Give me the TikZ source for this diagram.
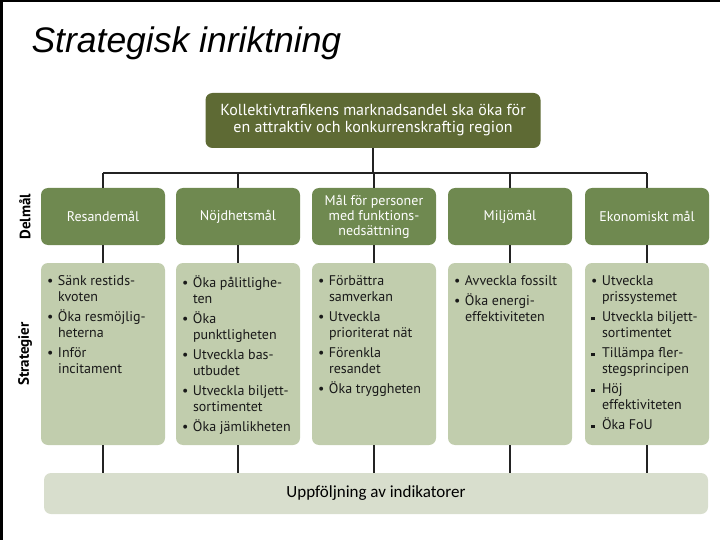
\documentclass[tikz,border=0pt]{standalone}
\usepackage{fontspec}
\setmainfont{PT Sans}
\newfontfamily\titlefont{Liberation Sans}
\newfontfamily\barfont{Carlito}
\definecolor{topgreen}{RGB}{94,106,52}
\definecolor{goalgreen}{RGB}{111,137,80}
\definecolor{stratgreen}{RGB}{193,205,173}
\definecolor{followgrey}{RGB}{216,222,205}
\definecolor{linkgrey}{RGB}{35,35,35}
\tikzset{
  goalbox/.style={fill=goalgreen, rounded corners=7pt, minimum width=124pt, minimum height=57pt,
    text=white, align=center, font=\fontsize{14}{15}\selectfont},
  stratbox/.style={fill=stratgreen, rounded corners=7pt, minimum width=124pt, minimum height=182pt},
  strattext/.style={anchor=north west, align=left, inner sep=0pt, xshift=6pt, yshift=-13pt,
    font=\fontsize{14}{16}\selectfont, text=black!90},
  sidelabel/.style={rotate=90, font=\bfseries\fontsize{15}{17}\selectfont},
  link/.style={draw=linkgrey, line width=1.3pt}
}
\newcommand{\itm}{\makebox[11pt][l]{\textbullet}}
\newcommand{\sqi}{\makebox[11pt][l]{\rule[1.5pt]{3.5pt}{3.5pt}}}
\newcommand{\cnt}{\hspace*{11pt}}
\begin{document}
\begin{tikzpicture}[x=1pt, y=-1pt]
  \useasboundingbox (0,0) rectangle (720,540);
  % frame
  \draw[line width=3pt] (1.5,540) -- (1.5,1) -- (720,1);
  \node[anchor=base west, font=\titlefont\itshape\fontsize{35.5}{38}\selectfont] (title) at (28,53) {Strategisk inriktning};

  % top goal
  \node[fill=topgreen, rounded corners=7pt, minimum width=335pt, minimum height=55pt,
    text=white, align=center, font=\fontsize{16}{17}\selectfont] (vision) at (373,120.5)
    {Kollektivtrafikens marknadsandel ska öka för\\en attraktiv och konkurrenskraftig region};

  % columns
  \foreach \i/\x in {1/103,2/238,3/374,4/510,5/647}{
    \node[stratbox] (s\i) at (\x,354) {};
    \coordinate (bus\i) at (\x,173);
  }
  \node[goalbox] (g1) at (103,216.5) {Resandemål};
  \node[goalbox] (g2) at (238,216.5) {Nöjdhetsmål};
  \node[goalbox] (g3) at (374,216.5) {Mål för personer\\med funktions-\\nedsättning};
  \node[goalbox] (g4) at (510,216.5) {Miljömål};
  \node[goalbox] (g5) at (647,216.5) {Ekonomiskt mål};

  \node[fill=followgrey, rounded corners=7pt, minimum width=664pt, minimum height=41pt,
    font=\barfont\fontsize{17}{19}\selectfont] (follow) at (376,493.5) {Uppföljning av indikatorer};

  % strategies
  \node[strattext] (t1) at (s1.north west) {\itm Sänk restids-\\\cnt kvoten\\[4pt]\itm Öka resmöjlig-\\\cnt heterna\\[4pt]\itm Inför\\\cnt incitament};
  \node[strattext] (t2) at (s2.north west) {\itm Öka pålitlighe-\\\cnt ten\\[4pt]\itm Öka\\\cnt punktligheten\\[4pt]\itm Utveckla bas-\\\cnt utbudet\\[4pt]\itm Utveckla biljett-\\\cnt sortimentet\\[4pt]\itm Öka jämlikheten};
  \node[strattext] (t3) at (s3.north west) {\itm Förbättra\\\cnt samverkan\\[4pt]\itm Utveckla\\\cnt prioriterat nät\\[4pt]\itm Förenkla\\\cnt resandet\\[4pt]\itm Öka tryggheten};
  \node[strattext] (t4) at (s4.north west) {\itm Avveckla fossilt\\[4pt]\itm Öka energi-\\\cnt effektiviteten};
  \node[strattext] (t5) at (s5.north west) {\itm Utveckla\\\cnt prissystemet\\[4pt]\sqi Utveckla biljett-\\\cnt sortimentet\\[4pt]\sqi Tillämpa fler-\\\cnt stegsprincipen\\[4pt]\sqi Höj\\\cnt effektiviteten\\[4pt]\sqi Öka FoU};

  % side labels
  \node[sidelabel] (delmal) at (25,216.5) {Delmål};
  \node[sidelabel] (strat) at (25,354) {Strategier};

  % connectors
  \draw[link] (vision.south) -- (vision.south |- bus1);
  \draw[link] (bus1) -- (bus5);
  \foreach \i in {1,...,5}{
    \draw[link] (bus\i) -- (g\i.north);
    \draw[link] (g\i.south) -- (s\i.north);
    \draw[link] (s\i.south) -- (s\i.south |- follow.north);
  }
\end{tikzpicture}
\end{document}
